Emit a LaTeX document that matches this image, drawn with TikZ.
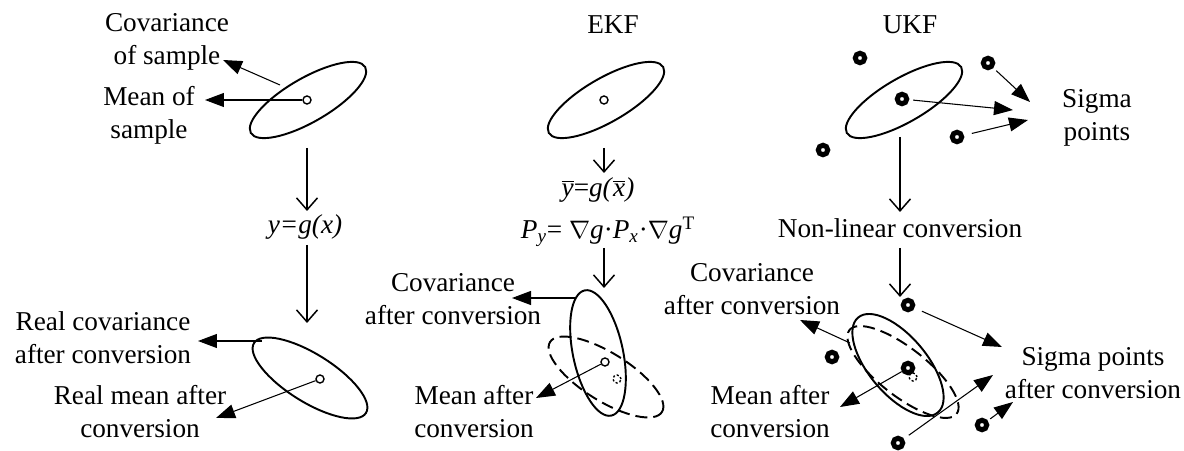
\documentclass[tikz,border=0pt]{standalone}
\usepackage{fontspec}
\setmainfont{Liberation Serif}
\usetikzlibrary{positioning,arrows.meta}

\begin{document}
\begin{tikzpicture}[x=0.02cm,y=0.02cm,
  lbl/.style={font=\fontsize{15.5}{18.8}\selectfont,align=center,inner sep=0pt},
  ell/.style={line width=1.1pt},
  dashell/.style={line width=1.1pt,dash pattern=on 0.24cm off 0.12cm},
  meanpt/.style={circle,draw,line width=0.8pt,minimum size=0.16cm,inner sep=0pt},
  dashpt/.style={meanpt,dash pattern=on 1.2pt off 1.2pt},
  sigpt/.style={circle,draw,line width=0.1cm,minimum size=0.19cm,inner sep=0pt},
  pointer/.style={line width=0.6pt,-{Triangle[length=0.38cm,width=0.28cm]}},
  flow/.style={line width=0.85pt,-{Straight Barb[length=0.24cm,width=0.42cm]}}]
  \useasboundingbox (0,0) rectangle (1184,450);

  % sample
  \draw[ell,rotate around={30:(308,350)}] (308,350) ellipse [x radius=66,y radius=22];
  \node[meanpt] (m1) at (307,350) {};
  \node[lbl] (cov1) at (167,408.5) {Covariance\\of sample};
  \node[lbl] (mean1) at (149,334.5) {Mean of\\sample};
  \coordinate (e1a) at (280,365);
  \coordinate (cov1t) at (223,390);
  \coordinate (mean1t) at (205,350);
  \draw[pointer] (e1a) -- (cov1t);
  \draw[pointer] (m1) -- (mean1t);
  \coordinate (d1a) at (307,302);
  \coordinate (d1b) at (307,239);
  \node[lbl] (gx) at (305,223) {\textit{y=g(x)}};
  \coordinate (d2a) at (307,205);
  \coordinate (d2b) at (307,127);
  \draw[flow] (d1a) -- (d1b);
  \draw[flow] (d2a) -- (d2b);
  \draw[ell,rotate around={-32:(310,72)}] (310,72) ellipse [x radius=66,y radius=24];
  \node[meanpt] (m2) at (320,71) {};
  \node[lbl] (cov2) at (103,112) {Real covariance\\after conversion};
  \node[lbl] (mean2) at (140,38.5) {Real mean after\\conversion};
  \coordinate (e2a) at (262,109);
  \coordinate (cov2t) at (198,109);
  \coordinate (mean2t) at (216,32);
  \draw[pointer] (e2a) -- (cov2t);
  \draw[pointer] (m2) -- (mean2t);

  % EKF
  \node[lbl] (ekf) at (613,425) {EKF};
  \draw[ell,rotate around={30:(606,350)}] (606,350) ellipse [x radius=66,y radius=22];
  \node[meanpt] (m3) at (604,350) {};
  \coordinate (d3a) at (604,302);
  \coordinate (d3b) at (604,277);
  \node[lbl] (ybar) at (598,260)
    {$\overline{\mbox{\textit{y}}}$=\textit{g(}$\overline{\mbox{\textit{x}}}$\textit{)}};
  \node[lbl] (py) at (608,218)
    {\textit{P}\textsubscript{\textit{y}}= $\nabla$\textit{g}·\textit{P}\textsubscript{\textit{x}}·$\nabla$\textit{g}\textsuperscript{T}};
  \coordinate (d4a) at (604,202);
  \coordinate (d4b) at (604,162);
  \draw[flow] (d3a) -- (d3b);
  \draw[flow] (d4a) -- (d4b);
  \draw[ell,rotate around={102:(598,97)}] (598,97) ellipse [x radius=64,y radius=25];
  \draw[dashell,rotate around={-32:(606,73)}] (606,73) ellipse [x radius=66,y radius=24];
  \node[meanpt] (m4) at (605,88) {};
  \node[dashpt] (m5) at (617,71) {};
  \node[lbl] (cov3) at (453,150.5) {Covariance\\after conversion};
  \node[lbl] (mean3) at (474,38.5) {Mean after\\conversion};
  \coordinate (e4a) at (575,152);
  \coordinate (cov3t) at (512,152);
  \coordinate (mean3t) at (536,52);
  \draw[pointer] (e4a) -- (cov3t);
  \draw[pointer] (m4) -- (mean3t);

  % UKF
  \node[lbl] (ukf) at (910,425) {UKF};
  \draw[ell,rotate around={30:(904,350)}] (904,350) ellipse [x radius=66,y radius=22];
  \foreach \n/\x/\y in {s1/860/392,s2/988/387,s3/902/351,s4/957/313,s5/823/300}
    \node[sigpt] (\n) at (\x,\y) {};
  \node[lbl] (sig1) at (1097,332) {Sigma\\points};
  \coordinate (s2t) at (1030,348);
  \coordinate (s3t) at (1013,340);
  \coordinate (s4t) at (1028,330);
  \foreach \a/\b/\g in {s2/s2t/0.08,s3/s3t/0.08,s4/s4t/0.16}
    \draw[pointer,shorten <=\g cm] (\a) -- (\b);
  \coordinate (d5a) at (900,313);
  \coordinate (d5b) at (900,238);
  \node[lbl] (nlc) at (900,222) {Non-linear conversion};
  \coordinate (d6a) at (900,202);
  \coordinate (d6b) at (900,153);
  \draw[flow] (d5a) -- (d5b);
  \draw[flow] (d6a) -- (d6b);
  \draw[ell,rotate around={-50:(898,85)}] (898,85) ellipse [x radius=62,y radius=29];
  \draw[dashell,rotate around={-38:(903,78)}] (903,78) ellipse [x radius=68,y radius=24];
  \node[dashpt] (m6) at (913,73) {};
  \foreach \n/\x/\y in {t1/908/145,t2/832/93,t3/908/82,t4/982/25,t5/898/7}
    \node[sigpt] (\n) at (\x,\y) {};
  \node[lbl] (cov4) at (752,160.5) {Covariance\\after conversion};
  \node[lbl] (mean4) at (770,38.5) {Mean after\\conversion};
  \coordinate (e7a) at (850,107);
  \coordinate (cov4t) at (800,130);
  \coordinate (mean4t) at (840,43);
  \draw[pointer] (e7a) -- (cov4t);
  \draw[pointer] (t3) -- (mean4t);
  \node[lbl] (sig2) at (1093,77) {Sigma points\\after conversion};
  \coordinate (t1t) at (1002,103);
  \coordinate (t5t) at (993,75);
  \coordinate (t4t) at (1013,48);
  \foreach \a/\b/\g in {t1/t1t/0.16,t5/t5t/0.12,t4/t4t/0.06}
    \draw[pointer,shorten <=\g cm] (\a) -- (\b);
\end{tikzpicture}
\end{document}
